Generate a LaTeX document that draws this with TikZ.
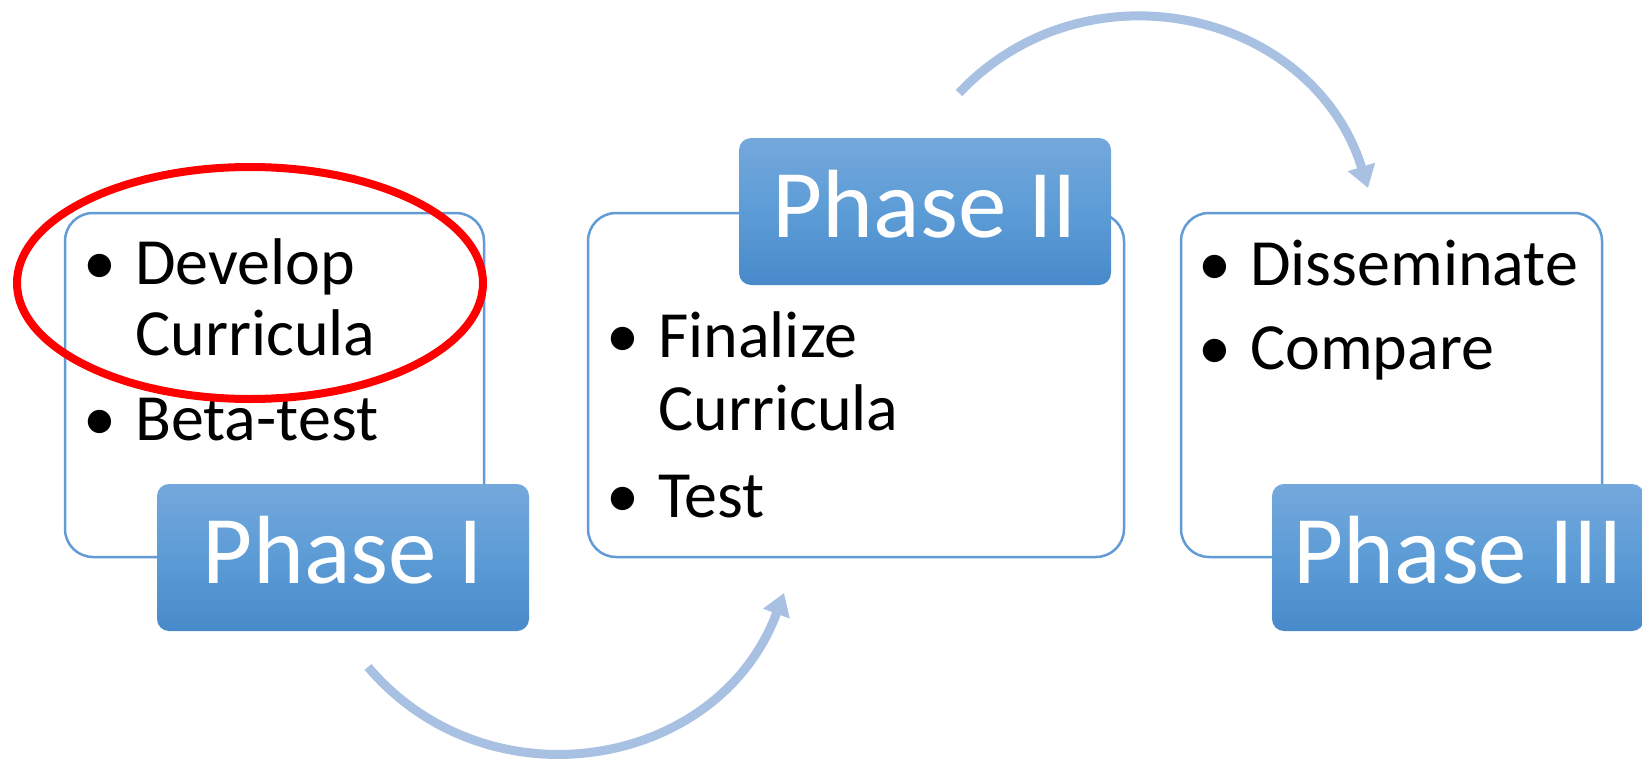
\documentclass[tikz,border=0pt]{standalone}
\usepackage{fontspec}
\setmainfont{Carlito}
\usetikzlibrary{shapes.geometric,arrows.meta}

\definecolor{cardline}{RGB}{98,155,213}
\definecolor{phasetop}{RGB}{116,168,220}
\definecolor{phasemid}{RGB}{92,156,214}
\definecolor{phasebot}{RGB}{72,138,202}
\definecolor{flowblue}{RGB}{168,192,226}

\begin{document}
\begin{tikzpicture}[x=1pt,y=-1pt,
    card/.style={draw=cardline, line width=2.5pt, rounded corners=28pt, fill=white, inner sep=0pt, minimum height=344pt},
    phase/.style={rounded corners=12pt, top color=phasetop, bottom color=phasebot, middle color=phasemid,
        minimum width=372pt, minimum height=147pt, inner sep=0pt, text=white,
        font=\fontsize{97}{116}\selectfont, text height=52pt, text depth=0pt},
    items/.style={anchor=base west, inner sep=0pt, font=\fontsize{66}{71}\selectfont},
    flow/.style={draw=flowblue, line width=9pt, -{Triangle[length=22pt,width=27pt]}},
    hilite/.style={draw=red, line width=8pt, ellipse, minimum width=466pt, minimum height=232pt, inner sep=0pt}]

\useasboundingbox (0,0) rectangle (1642,760);

% white cards
\node[card, minimum width=419pt] (card1) at (274.5,385) {};
\node[card, minimum width=536pt] (card2) at (856,385) {};
\node[card, minimum width=421pt] (card3) at (1391.5,385) {};

% bullet lists
\node[items] (list1) at (83,284) {\begin{tabular}[t]{@{}p{52pt}@{}l@{}}
    \textbullet & Develop\\ & Curricula\\[14pt] \textbullet & Beta-test\end{tabular}};
\node[items] (list2) at (606,357) {\begin{tabular}[t]{@{}p{52pt}@{}l@{}}
    \textbullet & Finalize\\[2pt] & Curricula\\[16pt] \textbullet & Test\end{tabular}};
\node[items] (list3) at (1198,285) {\begin{tabular}[t]{@{}p{52pt}@{}l@{}}
    \textbullet & Disseminate\\[13pt] \textbullet & Compare\end{tabular}};

% phase labels
\node[phase] (ph1) at (343,557.5) {Phase I};
\node[phase] (ph2) at (925,211.5) {Phase II};
\node[phase] (ph3) at (1458,557.5) {Phase III};

% highlight
\node[hilite] (focus) at (250,283) {};

% curved arrows
\coordinate (lowstart) at (368,667);
\coordinate (lowend) at (784,593);
\coordinate (highstart) at (959,93);
\coordinate (highend) at (1368,188);

\draw[flow] (lowstart) .. controls (489,809) and (719,769) .. (lowend);
\draw[flow] (highstart) .. controls (1087,-42) and (1313,11) .. (highend);

\end{tikzpicture}
\end{document}
